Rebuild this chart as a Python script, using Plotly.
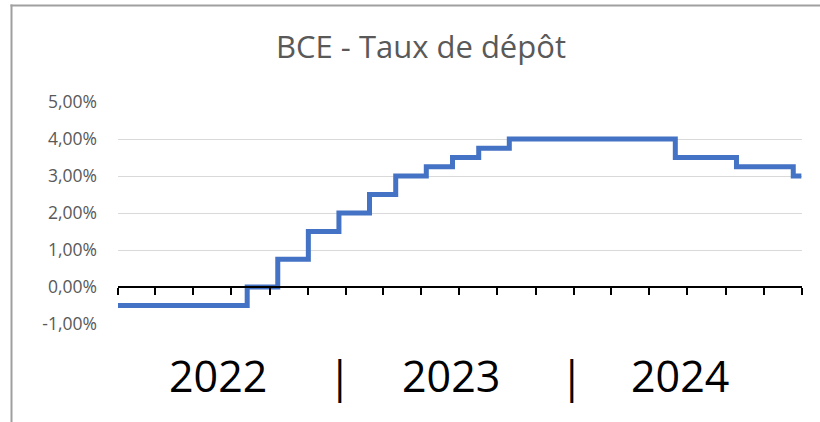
import plotly.graph_objects as go

# Data: ECB deposit rate steps (date of change, rate in %)
dates = ["2022-01-01", "2022-07-27", "2022-09-14", "2022-11-02", "2022-12-21",
         "2023-02-08", "2023-03-22", "2023-05-10", "2023-06-21", "2023-08-02",
         "2023-09-20", "2024-06-12", "2024-09-18", "2024-12-18", "2024-12-31"]
rates = [-0.50, 0.00, 0.75, 1.50, 2.00,
         2.50, 3.00, 3.25, 3.50, 3.75,
         4.00, 3.50, 3.25, 3.00, 3.00]

y_tickvals = [-1, 0, 1, 2, 3, 4, 5]
y_ticktext = ["-1,00%", "0,00%", "1,00%", "2,00%", "3,00%", "4,00%", "5,00%"]
year_labels = ["2022", "|", "2023", "|", "2024"]
year_label_x = ["2022-06-11", "2022-12-22", "2023-06-18", "2023-12-30", "2024-06-20"]

W, H = 820, 422
L, R, T, B = 118, 18, 102, 98
PW, PH = W - L - R, H - T - B


def px_x(p):
    return (p - L) / PW


def px_y(p):
    return (H - B - p) / PH


fig = go.Figure()
fig.add_trace(go.Scatter(
    x=dates, y=rates, mode="lines", line=dict(color="#4472C4", width=5, shape="hv"),
    xaxis="x", yaxis="y", showlegend=False, hoverinfo="skip"))
# empty trace on the secondary x axis (axis drawn at the zero level)
fig.add_trace(go.Scatter(x=[dates[0], dates[-1]], y=[None, None], xaxis="x2", yaxis="y",
                         showlegend=False, hoverinfo="skip"))

fig.update_layout(
    width=W, height=H,
    margin=dict(l=L, r=R, t=T, b=B),
    paper_bgcolor="white", plot_bgcolor="white",
    font=dict(family="Open Sans", color="#595959"),
    title=dict(text="BCE - Taux de dépôt", x=421 / W, xanchor="center",
               y=1 - 47 / H, yanchor="middle",
               font=dict(size=31, color="#595959", family="Open Sans")),
    xaxis=dict(range=["2022-01-01", "2025-01-01"], showgrid=False, showticklabels=False,
               ticks="", showline=False, zeroline=False),
    xaxis2=dict(range=["2022-01-01", "2025-01-01"], overlaying="x", anchor="free",
                position=1 / 6, showgrid=False, showticklabels=False,
                ticks="outside", ticklen=7, tickwidth=1.5, tickcolor="black",
                tick0="2022-01-01", dtick="M2",
                showline=True, linecolor="black", linewidth=1.5, zeroline=False),
    yaxis=dict(range=[-1, 5], tickvals=y_tickvals, ticktext=y_ticktext,
               showgrid=True, gridcolor="#D9D9D9", gridwidth=1.3, zeroline=False,
               ticks="", ticklabelstandoff=20,
               tickfont=dict(size=17.5, color="#595959", family="Open Sans")),
)

for txt, xv in zip(year_labels, year_label_x):
    fig.add_annotation(x=xv, y=px_y(375), xref="x", yref="paper", text=txt, showarrow=False,
                       font=dict(size=43, color="black", family="Open Sans"),
                       xanchor="center", yanchor="middle")

# chart box frame: left and top edges
fig.add_shape(type="line", xref="paper", yref="paper",
              x0=px_x(11.5), x1=px_x(11.5), y0=px_y(440), y1=px_y(4.5),
              line=dict(color="#A0A0A0", width=2))
fig.add_shape(type="line", xref="paper", yref="paper",
              x0=px_x(10.5), x1=px_x(830), y0=px_y(5.5), y1=px_y(5.5),
              line=dict(color="#A0A0A0", width=2))

post = (
    "document.body.style.margin='0';"
    "document.body.style.overflow='hidden';"
)

fig.write_html("out.html", post_script=post, config={"displayModeBar": False})
